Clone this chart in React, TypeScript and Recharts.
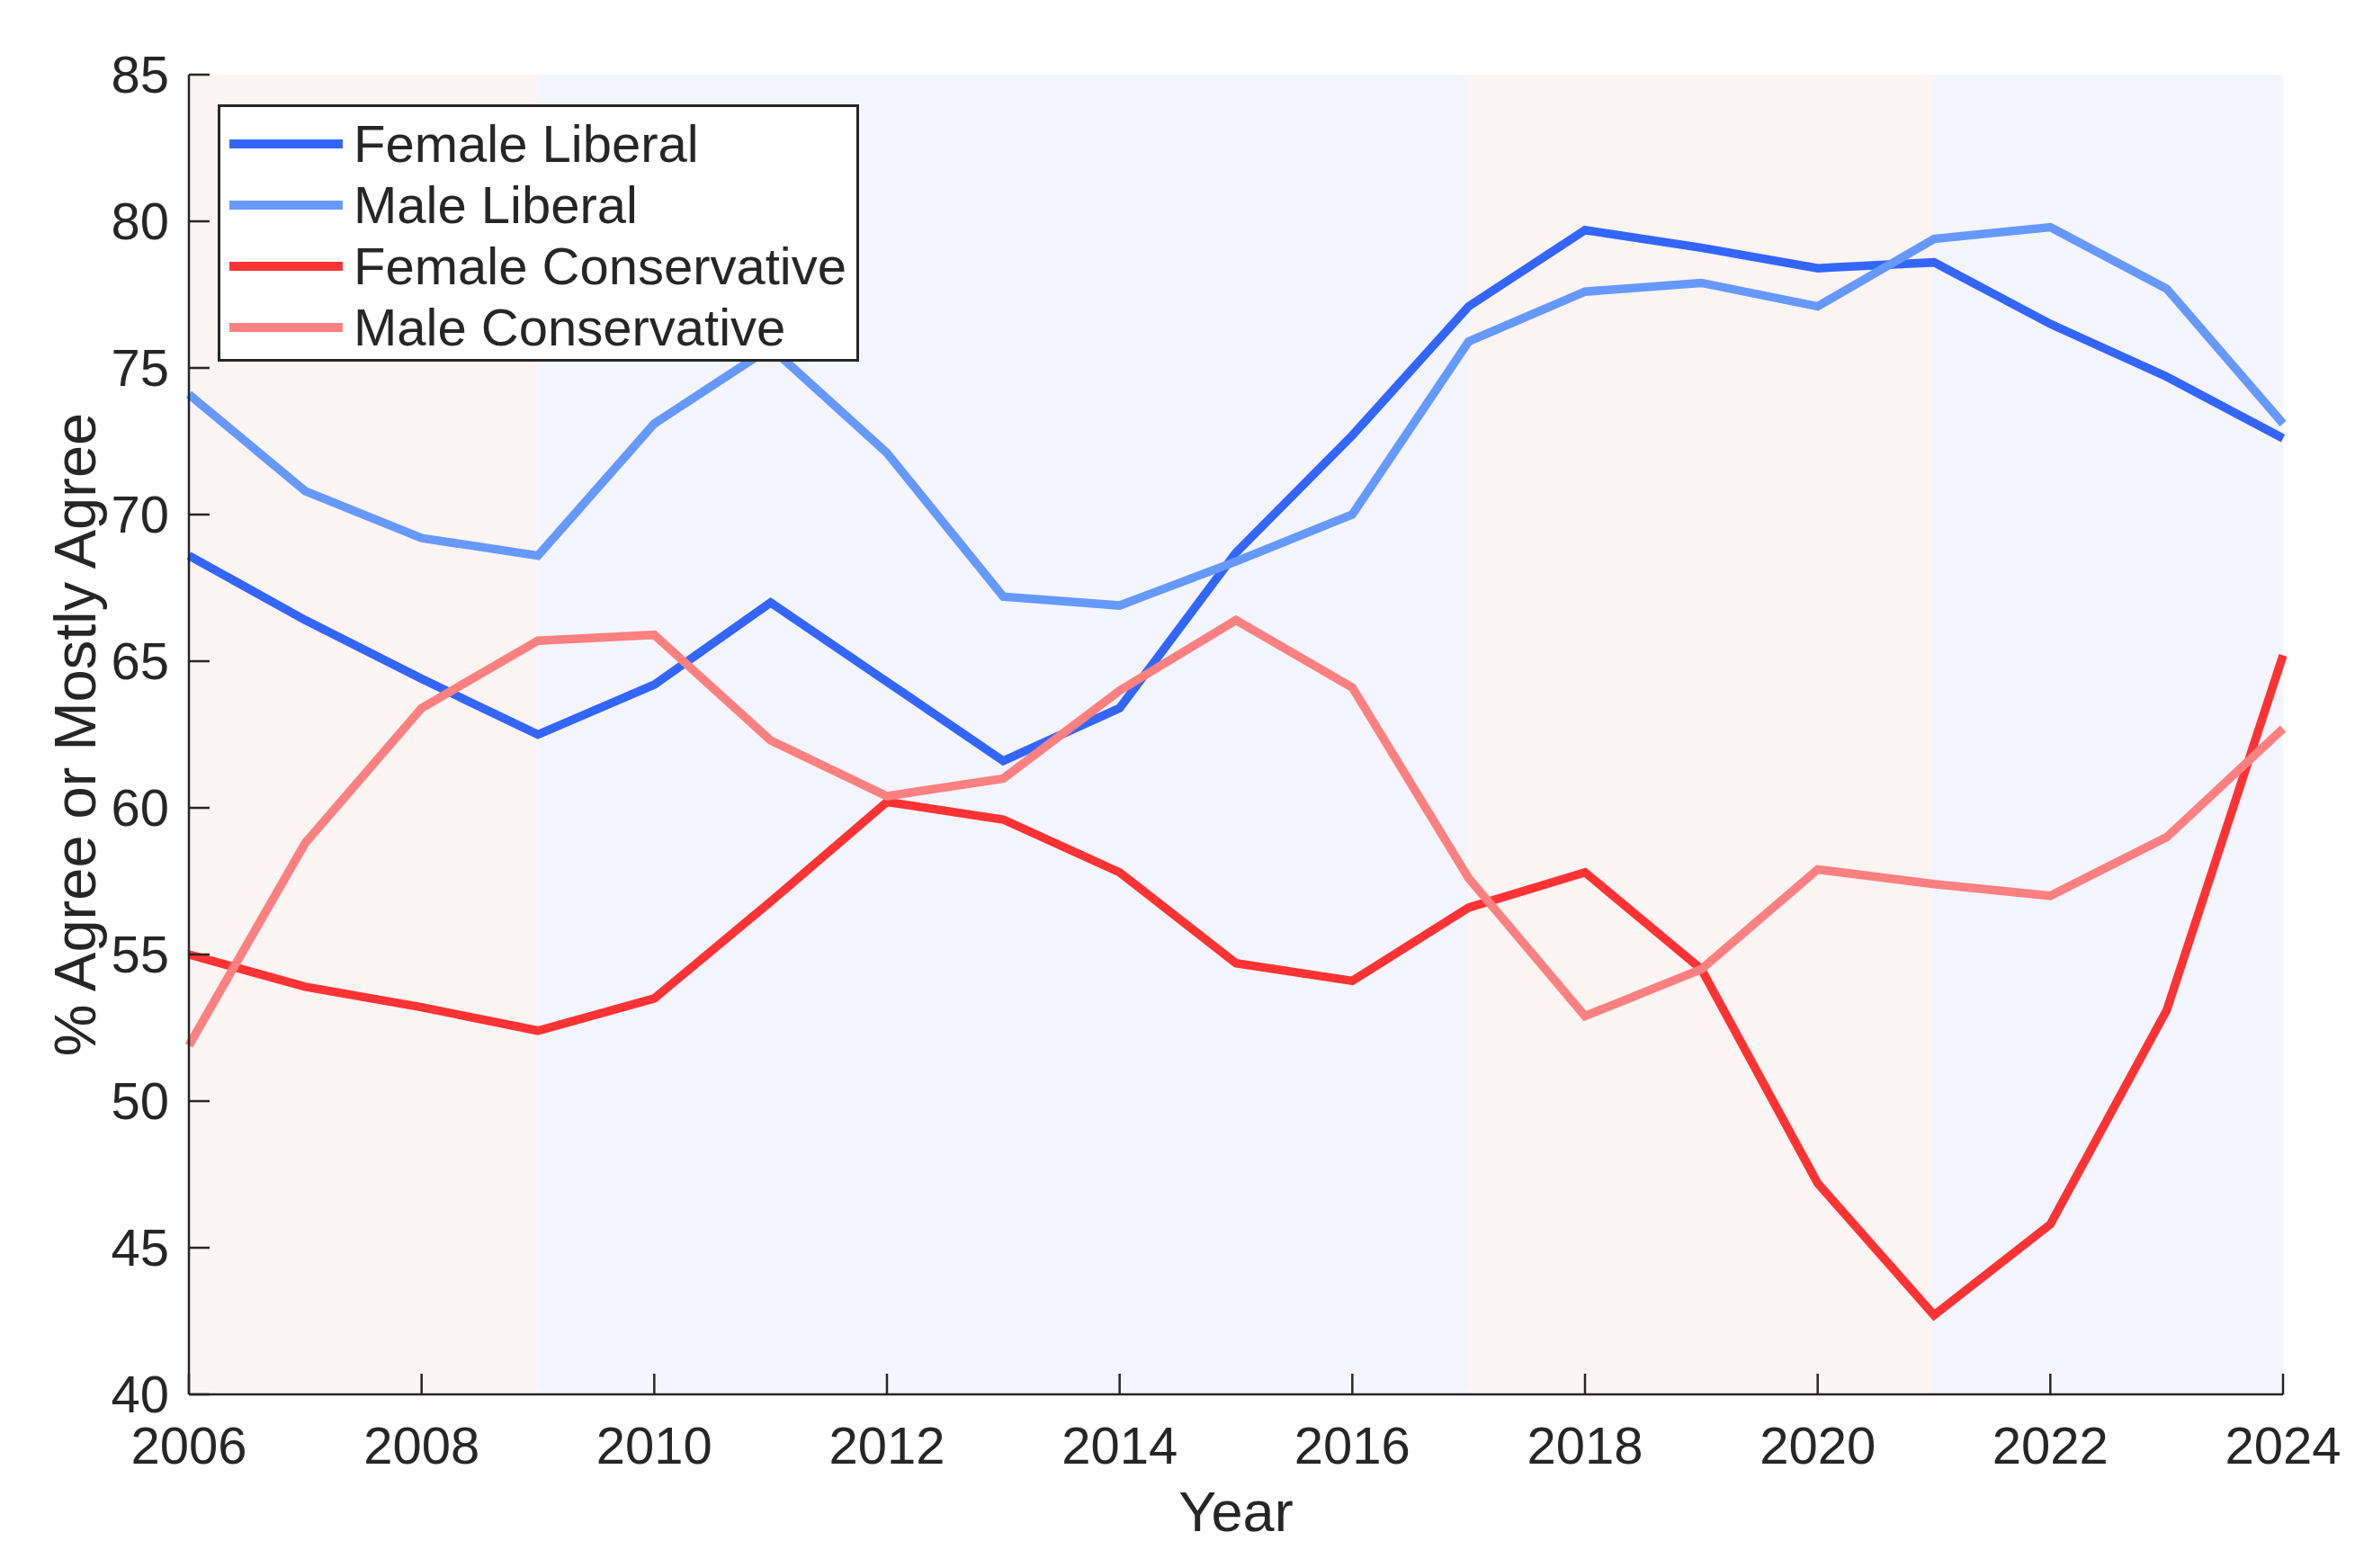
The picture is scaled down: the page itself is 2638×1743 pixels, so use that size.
import {
  LineChart,
  Line,
  XAxis,
  YAxis,
  ReferenceArea,
  Legend,
} from "recharts";

const years = [
  2006, 2007, 2008, 2009, 2010, 2011, 2012, 2013, 2014, 2015, 2016, 2017, 2018,
  2019, 2020, 2021, 2022, 2023, 2024,
];

const femaleLiberal = [
  68.6, 66.4, 64.4, 62.5, 64.2, 67.0, 64.3, 61.6, 63.4, 68.7, 72.7, 77.1, 79.7,
  79.1, 78.4, 78.6, 76.5, 74.7, 72.6,
];
const maleLiberal = [
  74.1, 70.8, 69.2, 68.6, 73.1, 75.7, 72.1, 67.2, 66.9, 68.4, 70.0, 75.9, 77.6,
  77.9, 77.1, 79.4, 79.8, 77.7, 73.1,
];
const femaleConservative = [
  55.0, 53.9, 53.2, 52.4, 53.5, 56.8, 60.2, 59.6, 57.8, 54.7, 54.1, 56.6, 57.8,
  54.5, 47.2, 42.7, 45.8, 53.1, 65.2,
];
const maleConservative = [
  51.9, 58.8, 63.4, 65.7, 65.9, 62.3, 60.4, 61.0, 64.0, 66.4, 64.1, 57.6, 52.9,
  54.5, 57.9, 57.4, 57.0, 59.0, 62.7,
];

const xTicks = [2006, 2008, 2010, 2012, 2014, 2016, 2018, 2020, 2022, 2024];
const yTicks = [40, 45, 50, 55, 60, 65, 70, 75, 80, 85];

// presidential terms shading: R = republican, D = democrat
const periods: [number, number, string][] = [
  [2006, 2009, "R"],
  [2009, 2017, "D"],
  [2017, 2021, "R"],
  [2021, 2024, "D"],
];

const series = [
  { key: "femaleLiberal", name: "Female Liberal", color: "#3366FF" },
  { key: "maleLiberal", name: "Male Liberal", color: "#6699FF" },
  { key: "femaleConservative", name: "Female Conservative", color: "#FF3333" },
  { key: "maleConservative", name: "Male Conservative", color: "#FF8080" },
];

const data = years.map((year, i) => ({
  year,
  femaleLiberal: femaleLiberal[i],
  maleLiberal: maleLiberal[i],
  femaleConservative: femaleConservative[i],
  maleConservative: maleConservative[i],
}));

const FONT = '"Liberation Sans", Arial, Helvetica, sans-serif';
const INK = "#262626";
const shade = { R: "#FDF4F4", D: "#F4F5FE" };

function XTick(props: any) {
  const { x, y, payload } = props;
  return (
    <g>
      <line x1={x} y1={y} x2={x} y2={y - 23} stroke={INK} strokeWidth={2.5} />
      <text
        x={x}
        y={y + 77}
        textAnchor="middle"
        fontSize={58}
        fontFamily={FONT}
        fill={INK}
      >
        {payload.value}
      </text>
    </g>
  );
}

function YTick(props: any) {
  const { x, y, payload } = props;
  return (
    <g>
      <line x1={x} y1={y} x2={x + 23} y2={y} stroke={INK} strokeWidth={2.5} />
      <text
        x={x - 22}
        y={y + 20}
        textAnchor="end"
        fontSize={58}
        fontFamily={FONT}
        fill={INK}
      >
        {payload.value}
      </text>
    </g>
  );
}

function LegendBox() {
  return (
    <div
      style={{
        width: 707,
        height: 280,
        border: `3px solid ${INK}`,
        background: "white",
        fontFamily: FONT,
        fontSize: 58,
        color: INK,
        position: "relative",
      }}
    >
      {series.map((s, i) => (
        <div
          key={s.key}
          style={{
            position: "absolute",
            left: 10,
            top: 41 + i * 68 - 35,
            height: 70,
            display: "flex",
            alignItems: "center",
            whiteSpace: "nowrap",
          }}
        >
          <svg width={126} height={10} style={{ marginRight: 12 }}>
            <rect x={0} y={0} width={126} height={10} fill={s.color} />
          </svg>
          <span style={{ lineHeight: "70px" }}>{s.name}</span>
        </div>
      ))}
    </div>
  );
}

export default function App() {
  return (
    <div style={{ position: "absolute", left: 0, top: 0, background: "white" }}>
      <LineChart
        width={2638}
        height={1743}
        data={data}
        margin={{ top: 83, right: 100, left: 0, bottom: 0 }}
      >
        {periods.map(([from, to, party]) => (
          <ReferenceArea
            key={from}
            x1={from}
            x2={to}
            y1={40}
            y2={85}
            fill={shade[party as "R" | "D"]}
            fillOpacity={1}
            stroke="none"
            ifOverflow="hidden"
          />
        ))}
        <XAxis
          dataKey="year"
          type="number"
          domain={[2006, 2024]}
          ticks={xTicks}
          interval={0}
          height={193}
          tickSize={0}
          tickMargin={0}
          tickLine={false}
          axisLine={{ stroke: INK, strokeWidth: 2.5 }}
          tick={<XTick />}
          label={{
            content: (p: any) => (
              <text
                x={p.viewBox.x + p.viewBox.width / 2}
                y={p.viewBox.y + 152}
                textAnchor="middle"
                fontSize={63}
                fontFamily={FONT}
                fill={INK}
              >
                Year
              </text>
            ),
          }}
        />
        <YAxis
          type="number"
          domain={[40, 85]}
          ticks={yTicks}
          interval={0}
          width={210}
          tickSize={0}
          tickMargin={0}
          tickLine={false}
          allowDataOverflow
          axisLine={{ stroke: INK, strokeWidth: 2.5 }}
          tick={<YTick />}
          label={{
            content: (p: any) => {
              const cx = p.viewBox.x + 83;
              const cy = p.viewBox.y + p.viewBox.height / 2;
              return (
                <text
                  x={cx}
                  y={cy}
                  transform={`rotate(-90 ${cx} ${cy})`}
                  textAnchor="middle"
                  dominantBaseline="central"
                  fontSize={65}
                  fontFamily={FONT}
                  fill={INK}
                >
                  % Agree or Mostly Agree
                </text>
              );
            },
          }}
        />
        {series.map((s) => (
          <Line
            key={s.key}
            type="linear"
            dataKey={s.key}
            name={s.name}
            stroke={s.color}
            strokeWidth={9.5}
            dot={false}
            activeDot={false}
            isAnimationActive={false}
          />
        ))}
        <Legend
          layout="vertical"
          align="center"
          verticalAlign="middle"
          content={() => <LegendBox />}
          wrapperStyle={{ position: "absolute", left: 242, top: 116, width: "auto", height: "auto" }}
        />
      </LineChart>
    </div>
  );
}
